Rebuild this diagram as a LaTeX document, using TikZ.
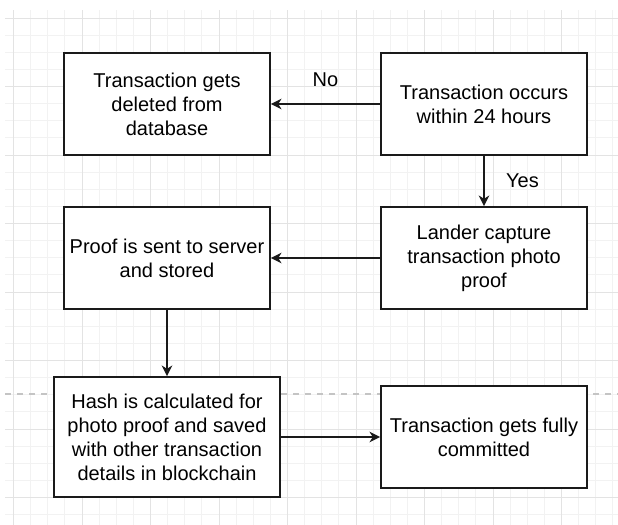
\documentclass[tikz,border=0pt]{standalone}
\usepackage{fontspec}
\setmainfont{Liberation Sans}
\usetikzlibrary{arrows.meta}
\definecolor{gridminor}{HTML}{F2F2F2}
\definecolor{gridmajor}{HTML}{E3E3E3}
\definecolor{pagebreak}{HTML}{C4C4C4}
\definecolor{boxline}{HTML}{1A1A1A}
\begin{document}
\begin{tikzpicture}[x=0.75pt,y=-0.75pt,
  minorline/.style={draw=gridminor, line width=0.75pt},
  majorline/.style={draw=gridmajor, line width=0.75pt},
  box/.style={draw=boxline, line width=1.3pt, fill=white, align=center,
    font=\fontsize{15}{18}\selectfont, inner sep=0pt,
    minimum width=154.5pt, minimum height=76.5pt},
  conn/.style={draw=boxline, line width=1.3pt, -{Stealth[length=8pt,width=8pt,inset=2.5pt]}},
  lbl/.style={font=\fontsize{15}{18}\selectfont, inner sep=0pt}]
\useasboundingbox (0,0) rectangle (618,525);
\fill[white] (0,0) rectangle (618,525);
% grid
\foreach \i in {0,...,35} {
  \draw[minorline] (13.5+17.125*\i,10) -- (13.5+17.125*\i,525);
}
\foreach \i in {0,...,30} {
  \draw[minorline] (5,18+17.125*\i) -- (618,18+17.125*\i);
}
\foreach \i in {0,...,8} {
  \draw[majorline] (13.5+68.5*\i,10) -- (13.5+68.5*\i,525);
}
\foreach \i in {0,...,7} {
  \draw[majorline] (5,18+68.5*\i) -- (618,18+68.5*\i);
}
% page break line
\draw[pagebreak, line width=0.9pt, dash pattern=on 4.5pt off 4.5pt] (5,394) -- (618,394);

% boxes
\node[box] (deleted) at (167,104) {Transaction gets\\deleted from\\database};
\node[box] (occurs) at (484,104) {Transaction occurs\\within 24 hours};
\node[box] (lander) at (484,258) {Lander capture\\transaction photo\\proof};
\node[box] (proof) at (167,258) {Proof is sent to server\\and stored};
\node[box, minimum width=169.5pt, minimum height=90pt] (hash) at (167,437) {Hash is calculated for\\photo proof and saved\\with other transaction\\details in blockchain};
\node[box] (commit) at (484,437) {Transaction gets fully\\committed};

% connectors
\draw[conn] (occurs) -- (deleted) node[lbl, midway, above=12pt] {No};
\draw[conn] (occurs) -- (lander) node[lbl, midway, right=16pt] {Yes};
\draw[conn] (lander) -- (proof);
\draw[conn] (proof) -- (hash);
\draw[conn] (hash) -- (commit);
\end{tikzpicture}
\end{document}
